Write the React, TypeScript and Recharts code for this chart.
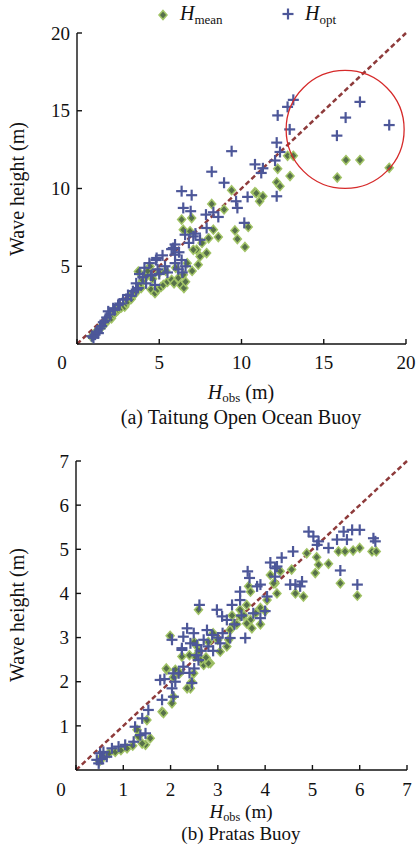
import { ScatterChart, Scatter, XAxis, YAxis, ReferenceLine, ReferenceDot } from "recharts"

// [H_obs, H_model] pairs
const taitungMean = [
    [0.9, 0.45], [1.0, 0.6], [1.1, 0.7], [1.2, 0.75], [1.3, 0.9], [1.4, 1.0], [1.5, 1.1], [1.6, 1.25],
    [1.7, 1.3], [1.8, 1.5], [1.9, 1.55], [2.0, 1.7], [2.1, 1.65], [2.2, 1.9], [2.3, 2.0], [2.4, 2.1],
    [2.5, 2.2], [2.6, 2.3], [2.7, 2.35], [2.9, 2.4], [3.0, 2.6], [3.1, 2.75], [3.3, 2.9], [3.3, 3.15],
    [3.5, 3.2], [3.6, 3.35], [3.7, 3.5], [3.9, 3.6], [3.9, 3.9], [4.0, 4.1], [4.2, 4.34], [3.73, 4.66],
    [4.44, 4.99], [4.3, 4.7], [4.5, 3.5], [4.74, 3.27], [4.9, 3.5], [5.1, 3.65], [5.25, 3.8], [5.5, 4.0],
    [5.75, 4.13], [5.9, 3.9], [6.16, 4.24], [6.46, 4.45], [6.3, 3.8], [6.5, 3.6], [6.6, 4.0], [4.6, 4.2],
    [5.0, 4.6], [5.4, 4.7], [6.0, 4.9], [6.7, 5.2], [7.0, 4.7], [6.46, 7.35], [6.87, 7.25], [6.36, 8.0],
    [6.97, 8.1], [7.27, 6.06], [7.07, 6.06], [7.48, 5.63], [7.37, 5.1], [7.88, 5.85], [7.6, 6.5], [8.0, 6.8],
    [8.29, 7.35], [8.59, 6.88], [8.19, 9.01], [8.94, 8.65], [9.4, 9.89], [9.6, 7.3], [9.75, 6.75],
    [10.21, 6.24], [10.41, 7.53], [10.82, 9.76], [11.1, 9.18], [10.9, 9.7], [11.3, 9.5], [12.14, 10.4],
    [12.34, 10.15], [12.95, 10.8], [12.2, 11.27], [12.8, 12.1], [13.15, 12.1], [15.82, 10.7],
    [16.35, 11.83], [17.2, 11.83], [18.98, 11.33],
]

const taitungOpt = [
    [0.9, 0.5], [1.0, 0.4], [1.1, 0.6], [1.2, 0.8], [1.3, 0.7], [1.4, 1.0], [1.5, 1.15], [1.6, 1.4],
    [1.7, 1.5], [1.8, 1.7], [1.9, 2.1], [2.0, 1.9], [2.2, 2.3], [2.3, 2.2], [2.5, 2.5], [2.6, 2.6],
    [2.8, 2.85], [3.0, 2.9], [3.1, 3.15], [3.3, 3.1], [3.4, 3.4], [3.6, 3.5], [3.7, 3.6], [3.6, 3.9],
    [3.8, 4.5], [4.0, 4.3], [4.1, 4.9], [4.2, 3.9], [4.4, 5.2], [4.5, 4.4], [4.54, 4.45], [4.74, 3.8],
    [4.8, 5.4], [4.9, 4.8], [5.0, 4.5], [5.2, 5.7], [5.35, 5.0], [5.5, 4.6], [5.75, 6.1], [5.96, 6.4],
    [5.96, 5.2], [6.16, 4.8], [6.36, 5.4], [6.2, 5.9], [5.85, 6.17], [5.96, 5.74], [4.84, 5.53],
    [6.4, 4.6], [6.6, 5.0], [6.36, 9.83], [6.97, 9.57], [6.46, 8.75], [6.91, 8.54], [6.57, 7.03],
    [7.07, 6.92], [7.48, 6.7], [7.2, 7.1], [6.8, 6.5], [7.88, 7.46], [7.84, 8.32], [8.29, 8.47],
    [8.59, 8.17], [8.19, 11.08], [8.94, 10.37], [9.4, 12.4], [9.67, 9.18], [9.75, 8.75], [10.17, 7.79],
    [10.37, 9.46], [10.82, 11.55], [11.3, 11.3], [11.2, 11.0], [12.14, 9.5], [12.04, 11.8],
    [12.34, 12.35], [12.14, 12.95], [12.93, 13.8], [12.2, 14.7], [12.8, 15.25], [13.15, 15.7],
    [15.8, 13.4], [16.33, 14.56], [17.2, 15.57], [18.98, 14.08],
]

const pratasMean = [
    [0.5, 0.2], [0.55, 0.3], [0.58, 0.3], [0.7, 0.38], [0.83, 0.41], [0.95, 0.45], [1.08, 0.49],
    [1.2, 0.55], [1.32, 0.76], [1.29, 0.91], [1.47, 0.57], [1.5, 1.13], [1.57, 0.72], [1.4, 0.6],
    [1.82, 1.32], [1.85, 1.29], [2.03, 1.51], [2.06, 1.66], [1.92, 2.27], [1.99, 3.04], [2.24, 2.57],
    [1.91, 2.3], [2.1, 2.27], [2.06, 2.1], [2.2, 2.2], [2.42, 1.85], [2.49, 2.19], [2.56, 2.8],
    [2.59, 3.63], [2.52, 2.57], [2.84, 2.42], [2.7, 2.38], [2.8, 2.42], [3.05, 2.68], [3.19, 2.8],
    [3.23, 2.95], [3.26, 3.17], [3.33, 3.29], [3.47, 3.48], [3.47, 3.63], [3.69, 3.4], [3.61, 3.74],
    [3.72, 3.21], [3.61, 3.32], [3.65, 4.16], [3.9, 3.67], [4.04, 3.85], [4.25, 4.0], [4.21, 4.23],
    [4.11, 4.42], [3.69, 4.04], [4.18, 4.23], [4.32, 4.5], [4.56, 4.54], [4.64, 4.0], [4.81, 3.93],
    [4.88, 4.91], [5.09, 4.82], [5.13, 4.65], [5.34, 4.67], [5.55, 4.95], [5.69, 4.95], [5.86, 4.97],
    [6.0, 5.03], [6.26, 4.95], [6.35, 4.95], [5.06, 4.46], [5.59, 4.23], [5.95, 3.95], [2.4, 2.6],
    [2.5, 2.9], [2.6, 2.7], [2.8, 2.9], [2.9, 3.1], [3.0, 2.95], [2.35, 1.85], [2.45, 2.0],
    [2.65, 2.5], [2.75, 2.55], [3.3, 3.5], [3.4, 3.3], [3.55, 3.5], [3.8, 3.55], [3.9, 3.3], [4.0, 3.6],
]

const pratasOpt = [
    [0.44, 0.23], [0.48, 0.15], [0.51, 0.38], [0.55, 0.25], [0.58, 0.41], [0.65, 0.3], [0.76, 0.49],
    [0.9, 0.53], [1.04, 0.57], [1.22, 0.64], [1.25, 0.98], [1.36, 0.79], [1.4, 1.17], [1.47, 0.83],
    [1.53, 1.36], [1.82, 1.59], [1.78, 2.04], [1.87, 2.06], [2.03, 1.85], [2.1, 2.0], [2.06, 1.66],
    [2.17, 2.19], [2.03, 2.95], [2.24, 2.72], [2.61, 3.74], [2.35, 3.21], [2.27, 3.02], [2.49, 3.1],
    [2.42, 2.87], [2.24, 2.76], [2.56, 2.83], [2.7, 2.95], [2.77, 3.17], [2.88, 3.06], [2.98, 3.63],
    [3.09, 3.48], [3.19, 3.4], [3.3, 3.74], [3.05, 2.87], [3.26, 2.99], [3.58, 2.99], [3.47, 3.85],
    [3.47, 4.04], [3.63, 4.5], [3.67, 4.35], [3.83, 4.16], [3.9, 4.2], [4.11, 4.7], [4.21, 4.57],
    [3.75, 3.55], [3.9, 3.44], [4.04, 3.93], [2.45, 1.97], [2.06, 2.19], [2.27, 2.34], [2.59, 2.49],
    [4.92, 5.4], [5.02, 5.29], [5.13, 5.18], [5.1, 5.1], [5.34, 5.03], [5.52, 5.22], [5.66, 5.4],
    [5.73, 5.22], [5.84, 5.44], [6.0, 5.44], [6.29, 5.25], [6.33, 5.18], [5.59, 4.52], [5.95, 4.2],
    [4.59, 4.95], [4.35, 4.81], [4.25, 4.61], [4.21, 4.38], [4.53, 4.2], [4.78, 4.27], [4.74, 4.16],
    [4.64, 4.2], [2.55, 2.6], [2.65, 2.7], [2.8, 2.8], [2.9, 2.7], [3.0, 3.0], [3.1, 3.1], [2.5, 2.3],
    [2.4, 2.2], [3.35, 3.3], [3.5, 3.5], [4.0, 3.6],
]

const taitungXTicks = [0, 5, 10, 15, 20]
const taitungYTicks = [5, 10, 15, 20]
const pratasXTicks = [0, 1, 2, 3, 4, 5, 6, 7]
const pratasYTicks = [1, 2, 3, 4, 5, 6, 7]

const FONT = "'Liberation Serif', 'Times New Roman', serif"
const GREEN_FILL = "#56704a"
const GREEN_EDGE = "#a2c466"
const BLUE = "#4d5799"
const DASH = "#8e3b3b"

const toPoints = (rows: number[][]) => rows.map(([x, y]) => ({ x, y }))

const Diamond = (props: any) => {
    const { cx, cy } = props
    return (
        <polygon
            points={`${cx},${cy - 4.5} ${cx + 4},${cy} ${cx},${cy + 4.5} ${cx - 4},${cy}`}
            fill={GREEN_FILL}
            stroke={GREEN_EDGE}
            strokeWidth={1.5} />
    )
}

const Plus = (props: any) => {
    const { cx, cy } = props
    const h = 5.5
    return (
        <g stroke={BLUE} strokeWidth={2.2}>
            <line x1={cx - h} y1={cy} x2={cx + h} y2={cy} />
            <line x1={cx} y1={cy - h} x2={cx} y2={cy + h} />
        </g>
    )
}

// x tick: the origin label sits a little left of the corner
const XTick = (props: any) => {
    const { x, y, payload } = props
    const shift = payload.value === 0 ? -15 : 0
    return (
        <text x={x + shift} y={y} dy="0.71em" textAnchor="middle"
            fontFamily={FONT} fontSize={19} fill="#111">
            {payload.value}
        </text>
    )
}

const axisLine = { stroke: "#111", strokeWidth: 1.4 }
const tickLine = { stroke: "#111", strokeWidth: 1.4 }
const yTick = { fill: "#111", fontSize: 19, fontFamily: FONT }

function HLabel({ x, y, sub, tail, size = 20 }: any) {
    return (
        <text x={x} y={y} fontFamily={FONT} fontSize={size} fill="#111" textAnchor="middle">
            <tspan fontStyle="italic">H</tspan>
            <tspan fontSize={size * 0.65} dy={3}>{sub}</tspan>
            <tspan dy={-3}>{tail}</tspan>
        </text>
    )
}

export default function App() {
    return (
        <div style={{ position: "absolute", left: 0, top: 0, width: 416, height: 847, background: "#fff" }}>
            <div style={{ position: "absolute", left: 0, top: 0 }}>
                <ScatterChart width={416} height={380}
                    margin={{ top: 33, right: 10, bottom: 6, left: 0 }}>
                    <XAxis type="number" dataKey="x" domain={[0, 20]} ticks={taitungXTicks}
                        height={30} axisLine={axisLine} tickLine={tickLine}
                        tickSize={-5} tickMargin={17} tick={<XTick />} />
                    <YAxis type="number" dataKey="y" domain={[0, 20]} ticks={taitungYTicks}
                        width={77} axisLine={axisLine} tickLine={tickLine}
                        tickSize={-5} tickMargin={12} tick={yTick} />
                    <Scatter data={toPoints(taitungMean)} shape={<Diamond />} isAnimationActive={false} />
                    <Scatter data={toPoints(taitungOpt)} shape={<Plus />} isAnimationActive={false} />
                    <ReferenceLine segment={[{ x: 0, y: 0 }, { x: 20, y: 20 }]}
                        stroke={DASH} strokeWidth={2.5} strokeDasharray="5 3" />
                    <ReferenceDot x={16.3} y={13.8} r={59} fill="none"
                        stroke="#d62a2a" strokeWidth={1.3} />
                </ScatterChart>
            </div>

            <div style={{ position: "absolute", left: 0, top: 430 }}>
                <ScatterChart width={416} height={380}
                    margin={{ top: 31, right: 9, bottom: 10, left: 0 }}>
                    <XAxis type="number" dataKey="x" domain={[0, 7]} ticks={pratasXTicks}
                        height={30} axisLine={axisLine} tickLine={tickLine}
                        tickSize={-5} tickMargin={18} tick={<XTick />} />
                    <YAxis type="number" dataKey="y" domain={[0, 7]} ticks={pratasYTicks}
                        width={76} axisLine={axisLine} tickLine={tickLine}
                        tickSize={-5} tickMargin={12} tick={yTick} />
                    <Scatter data={toPoints(pratasMean)} shape={<Diamond />} isAnimationActive={false} />
                    <Scatter data={toPoints(pratasOpt)} shape={<Plus />} isAnimationActive={false} />
                    <ReferenceLine segment={[{ x: 0, y: 0 }, { x: 7, y: 7 }]}
                        stroke={DASH} strokeWidth={2.5} strokeDasharray="5 3" />
                </ScatterChart>
            </div>

            <svg width={416} height={847}
                style={{ position: "absolute", left: 0, top: 0, pointerEvents: "none" }}>
                {/* legend */}
                <polygon points="163,10.5 167,15 163,19.5 159,15" fill={GREEN_FILL}
                    stroke={GREEN_EDGE} strokeWidth={1.5} />
                <text x={180} y={20} fontFamily={FONT} fontSize={20} fill="#111">
                    <tspan fontStyle="italic">H</tspan>
                    <tspan fontSize={13} dy={4}>mean</tspan>
                </text>
                <g stroke={BLUE} strokeWidth={2.2}>
                    <line x1={282.5} y1={14} x2={293.5} y2={14} />
                    <line x1={288} y1={8.5} x2={288} y2={19.5} />
                </g>
                <text x={305} y={20} fontFamily={FONT} fontSize={20} fill="#111">
                    <tspan fontStyle="italic">H</tspan>
                    <tspan fontSize={13} dy={4}>opt</tspan>
                </text>

                {/* top panel titles */}
                <text transform="translate(24,189) rotate(-90)" textAnchor="middle"
                    fontFamily={FONT} fontSize={20} fill="#111">Wave height (m)</text>
                <HLabel x={241} y={399} sub="obs" tail=" (m)" />
                <text x={241} y={424} textAnchor="middle" fontFamily={FONT} fontSize={20}
                    fill="#111">(a) Taitung Open Ocean Buoy</text>

                {/* bottom panel titles */}
                <text transform="translate(24,615) rotate(-90)" textAnchor="middle"
                    fontFamily={FONT} fontSize={20} fill="#111">Wave height (m)</text>
                <HLabel x={241} y={818} sub="obs" tail=" (m)" size={19} />
                <text x={241} y={840} textAnchor="middle" fontFamily={FONT} fontSize={19}
                    fill="#111">(b) Pratas Buoy</text>
            </svg>
        </div>
    )
}
